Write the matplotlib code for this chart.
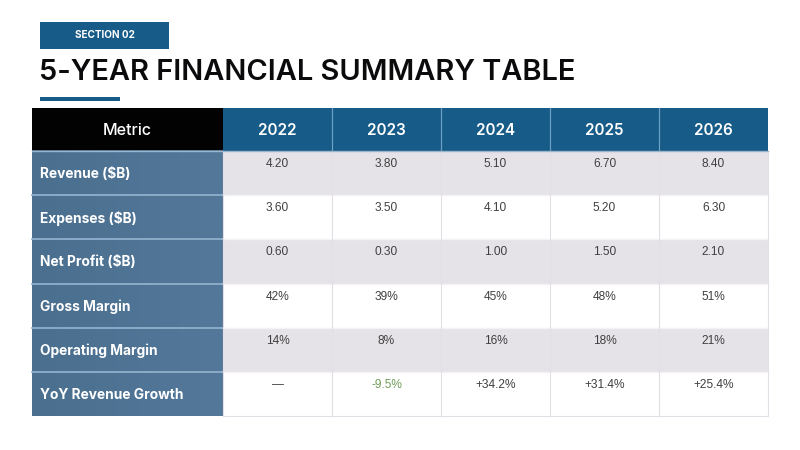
import matplotlib

matplotlib.use("Agg")
import matplotlib.pyplot as plt
import numpy as np
from matplotlib.colors import LinearSegmentedColormap
from matplotlib.patches import Rectangle


SECTION_LABEL = "SECTION 02"
TITLE = "5-YEAR FINANCIAL SUMMARY TABLE"
HEADER_LABEL = "Metric"
YEARS = ["2022", "2023", "2024", "2025", "2026"]
METRICS = [
    "Revenue ($B)",
    "Expenses ($B)",
    "Net Profit ($B)",
    "Gross Margin",
    "Operating Margin",
    "YoY Revenue Growth",
]
REVENUE = ["4.20", "3.80", "5.10", "6.70", "8.40"]
EXPENSES = ["3.60", "3.50", "4.10", "5.20", "6.30"]
NET_PROFIT = ["0.60", "0.30", "1.00", "1.50", "2.10"]
GROSS_MARGIN = ["42%", "39%", "45%", "48%", "51%"]
OPERATING_MARGIN = ["14%", "8%", "16%", "18%", "21%"]
YOY_GROWTH = ["\u2014", "-9.5%", "+34.2%", "+31.4%", "+25.4%"]

BLUE = "#175b88"
HEADER_BLACK = "#020203"
LABEL_LEFT = "#4b6f8e"
LABEL_RIGHT = "#53789a"
ROW_GRAY = "#e6e3e8"
ROW_WHITE = "#ffffff"
TEXT_DARK = "#404040"
TEXT_NEG = "#6f9c58"

# geometry in pixels (figure is 800 x 450)
TABLE_X0, TABLE_X1 = 32, 768
LABEL_X1 = 223
HEADER_Y0, HEADER_Y1 = 108, 151
ROW_H = 44.2


def draw_text_cell(ax, x, y, s, color, size, family="Liberation Sans", weight="normal", ha="center", va="center"):
    ax.text(x, y, s, color=color, fontsize=size, family=family, fontweight=weight, ha=ha, va=va)


def main() -> None:
    rows = [REVENUE, EXPENSES, NET_PROFIT, GROSS_MARGIN, OPERATING_MARGIN, YOY_GROWTH]

    fig = plt.figure(figsize=(8, 4.5), dpi=100)
    ax = fig.add_axes([0, 0, 1, 1])
    ax.set_xlim(0, 800)
    ax.set_ylim(450, 0)
    ax.axis("off")

    # section tag
    ax.add_patch(Rectangle((40, 22), 129, 27, color=BLUE, lw=0))
    ax.text(104.5, 35.5, SECTION_LABEL, color="white", fontsize=7.2, family="Inter",
            fontweight="bold", ha="center", va="center")

    # title and underline
    ax.text(39, 72, TITLE, color="#0b0b0d", fontsize=20.9, family="Inter",
            fontweight="semibold", ha="left", va="center")
    ax.add_patch(Rectangle((40, 97), 80, 4, color=BLUE, lw=0))

    col_w = (TABLE_X1 - LABEL_X1) / len(YEARS)

    # header row
    ax.add_patch(Rectangle((TABLE_X0, HEADER_Y0), LABEL_X1 - TABLE_X0, HEADER_Y1 - HEADER_Y0,
                           color=HEADER_BLACK, lw=0))
    draw_text_cell(ax, (TABLE_X0 + LABEL_X1) / 2, (HEADER_Y0 + HEADER_Y1) / 2 + 1, HEADER_LABEL,
                   "white", 11.6, family="Inter", weight="medium")
    for j, yr in enumerate(YEARS):
        x0 = LABEL_X1 + j * col_w
        ax.add_patch(Rectangle((x0, HEADER_Y0), col_w, HEADER_Y1 - HEADER_Y0, color=BLUE, lw=0))
        draw_text_cell(ax, x0 + col_w / 2, (HEADER_Y0 + HEADER_Y1) / 2 + 1, yr,
                       "white", 11, family="Inter", weight="semibold")
    for j in range(1, len(YEARS)):
        x = LABEL_X1 + j * col_w
        ax.plot([x, x], [HEADER_Y0, HEADER_Y1], color="#6e9fc2", lw=0.9)

    # label column background with a soft gradient
    body_y1 = HEADER_Y1 + ROW_H * len(METRICS)
    grad = np.linspace(0, 1, 64).reshape(1, -1)
    cmap = LinearSegmentedColormap.from_list("lab", [LABEL_LEFT, LABEL_RIGHT])
    ax.imshow(grad, cmap=cmap, extent=(TABLE_X0, LABEL_X1, body_y1, HEADER_Y1),
              aspect="auto", interpolation="bilinear", zorder=1)

    for i, (metric, vals) in enumerate(zip(METRICS, rows)):
        y0 = HEADER_Y1 + i * ROW_H
        bg = ROW_GRAY if i % 2 == 0 else ROW_WHITE
        ax.add_patch(Rectangle((LABEL_X1, y0), TABLE_X1 - LABEL_X1, ROW_H, color=bg, lw=0, zorder=1))
        draw_text_cell(ax, 40, y0 + ROW_H / 2 + 1, metric, "white", 9.9,
                       family="Inter", weight="bold", ha="left")
        for j, v in enumerate(vals):
            color = TEXT_NEG if v.startswith("-") else TEXT_DARK
            draw_text_cell(ax, LABEL_X1 + j * col_w + col_w / 2, y0 + 13, v, color, 8.6)
        if i > 0:
            ax.plot([TABLE_X0, LABEL_X1], [y0, y0], color="#8fb0cd", lw=1.3, zorder=3)
            ax.plot([LABEL_X1, TABLE_X1], [y0, y0], color="#f3f2f5", lw=1.0, zorder=3)

    # grid lines in body
    line_c = "#e2e0e6"
    for j in range(1, len(YEARS)):
        x = LABEL_X1 + j * col_w
        ax.plot([x, x], [HEADER_Y1, body_y1], color=line_c, lw=0.8, zorder=3)
    ax.plot([TABLE_X1, TABLE_X1], [HEADER_Y1, body_y1], color=line_c, lw=0.8, zorder=3)
    ax.plot([LABEL_X1, TABLE_X1], [body_y1, body_y1], color=line_c, lw=0.8, zorder=3)
    ax.plot([LABEL_X1, LABEL_X1], [HEADER_Y1, body_y1], color=line_c, lw=0.8, zorder=3)
    ax.plot([TABLE_X0, TABLE_X1], [HEADER_Y1, HEADER_Y1], color="#9bb5cb", lw=1.0, zorder=3)

    fig.savefig("out.png", dpi=100)
    plt.close(fig)


if __name__ == "__main__":
    main()
